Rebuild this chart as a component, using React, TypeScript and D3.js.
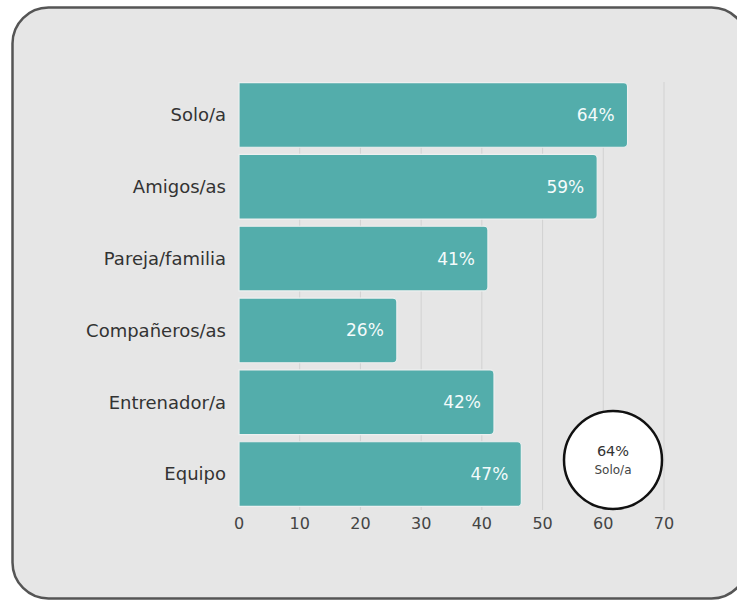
import React, { useRef, useEffect } from "react";
import * as d3 from "d3";

const categories = ["Solo/a", "Amigos/as", "Pareja/familia", "Compañeros/as", "Entrenador/a", "Equipo"];
const values = [64, 59, 41, 26, 42, 46.5];
const valueLabels = ["64%", "59%", "41%", "26%", "42%", "47%"];
const xTicks = [0, 10, 20, 30, 40, 50, 60, 70];
const calloutValue = "64%";
const calloutLabel = "Solo/a";

const FONT = "'DejaVu Sans', sans-serif";

export default function App() {
  const ref = useRef<SVGSVGElement>(null);

  useEffect(() => {
    if (!ref.current) return;
    const width = 737;
    const height = 601;
    const svg = d3.select(ref.current);
    svg.selectAll("*").remove();
    svg.attr("width", width).attr("height", height);

    // card
    svg.append("rect")
      .attr("x", 12.5).attr("y", 7.5)
      .attr("width", 735).attr("height", 591)
      .attr("rx", 36)
      .attr("fill", "#e6e6e6")
      .attr("stroke", "#555")
      .attr("stroke-width", 2.5);

    const x = d3.scaleLinear().domain([0, 70]).range([239, 664]);
    const y = d3.scaleBand<string>()
      .domain(categories)
      .range([79, 510])
      .paddingInner(0.1)
      .paddingOuter(0.05);

    // grid
    svg.append("g")
      .selectAll("line")
      .data(xTicks.slice(1))
      .join("line")
      .attr("x1", (d) => x(d)).attr("x2", (d) => x(d))
      .attr("y1", 82).attr("y2", 510)
      .attr("stroke", "#d2d2d2")
      .attr("stroke-width", 1);

    // bars: square left, rounded right
    const r = 4;
    const barPath = (x0: number, x1: number, y0: number, h: number) => {
      const p = d3.path();
      p.moveTo(x0, y0);
      p.lineTo(x1 - r, y0);
      p.arcTo(x1, y0, x1, y0 + r, r);
      p.lineTo(x1, y0 + h - r);
      p.arcTo(x1, y0 + h, x1 - r, y0 + h, r);
      p.lineTo(x0, y0 + h);
      p.closePath();
      return p.toString();
    };

    const bars = svg.append("g");
    bars.selectAll("path")
      .data(categories)
      .join("path")
      .attr("d", (c, i) => barPath(x(0), x(values[i]), y(c)!, y.bandwidth()))
      .attr("fill", "#53adab")
      .attr("stroke", "#edf0f0")
      .attr("stroke-width", 1.2);

    bars.selectAll("text")
      .data(categories)
      .join("text")
      .attr("x", (c, i) => x(values[i]) - 13)
      .attr("y", (c) => y(c)! + y.bandwidth() / 2)
      .attr("dy", "0.35em")
      .attr("text-anchor", "end")
      .attr("fill", "#f4fbfb")
      .attr("font-family", FONT)
      .attr("font-size", 17)
      .text((c, i) => valueLabels[i]);

    // category labels
    svg.append("g")
      .selectAll("text")
      .data(categories)
      .join("text")
      .attr("x", 226)
      .attr("y", (c) => y(c)! + y.bandwidth() / 2)
      .attr("dy", "0.35em")
      .attr("text-anchor", "end")
      .attr("fill", "#333")
      .attr("font-family", FONT)
      .attr("font-size", 18)
      .text((c) => c);

    // x tick labels
    svg.append("g")
      .selectAll("text")
      .data(xTicks)
      .join("text")
      .attr("x", (d) => x(d))
      .attr("y", 523)
      .attr("dy", "0.35em")
      .attr("text-anchor", "middle")
      .attr("fill", "#444")
      .attr("font-family", FONT)
      .attr("font-size", 16)
      .text((d) => String(d));

    // callout circle
    const cx = x(61.6);
    const cy = 460;
    const g = svg.append("g");
    g.append("circle")
      .attr("cx", cx).attr("cy", cy).attr("r", 49)
      .attr("fill", "#ffffff")
      .attr("stroke", "#111")
      .attr("stroke-width", 2.5);
    g.append("text")
      .attr("x", cx).attr("y", cy - 9)
      .attr("dy", "0.35em")
      .attr("text-anchor", "middle")
      .attr("fill", "#333")
      .attr("font-family", FONT)
      .attr("font-size", 14.5)
      .text(calloutValue);
    g.append("text")
      .attr("x", cx).attr("y", cy + 10)
      .attr("dy", "0.35em")
      .attr("text-anchor", "middle")
      .attr("fill", "#444")
      .attr("font-family", FONT)
      .attr("font-size", 12)
      .text(calloutLabel);
  }, []);

  return (
    <svg
      ref={ref}
      style={{ position: "absolute", left: 0, top: 0, display: "block", background: "#ffffff" }}
    />
  );
}
